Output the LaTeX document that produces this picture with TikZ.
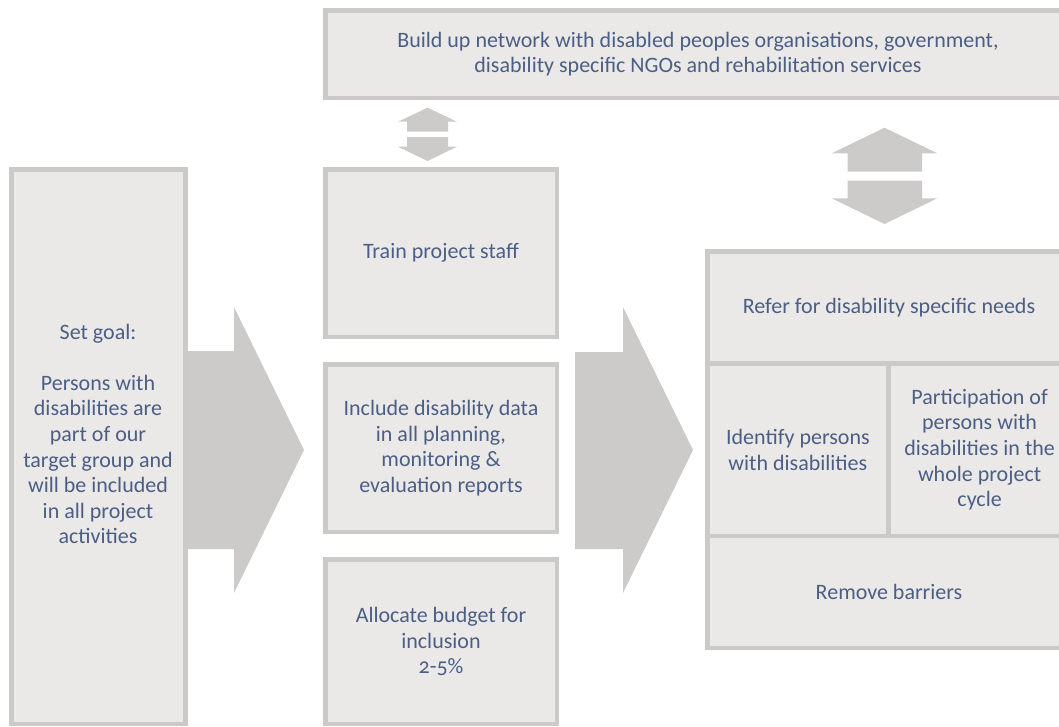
\documentclass[tikz,border=0pt]{standalone}
\usepackage{fontspec}
\setmainfont[Numbers=OldStyle]{Carlito}
\definecolor{boxfill}{RGB}{235,233,231}
\definecolor{boxline}{RGB}{203,202,200}
\definecolor{arrowgray}{RGB}{204,203,201}
\definecolor{textblue}{RGB}{75,94,133}
\tikzset{
  panel/.style={draw=boxline, fill=boxfill, line width=4.5pt, rectangle, inner sep=0pt,
    text=textblue, align=center, font=\fontsize{22}{25.6}\selectfont},
  blockarrow/.style={fill=arrowgray, draw=none},
}
\begin{document}
\begin{tikzpicture}[x=1pt,y=-1pt]
\useasboundingbox (0,0) rectangle (1059,726);
% big block arrows
\fill[blockarrow] (185,351) -- (234,351) -- (234,307) -- (304,450) -- (234,593) -- (234,549) -- (185,549) -- cycle;
\fill[blockarrow] (575,352) -- (623,352) -- (623,307) -- (693,450) -- (623,593) -- (623,549) -- (575,549) -- cycle;
% small double arrow
\fill[blockarrow] (427.5,107.7) -- (457,121.7) -- (448,121.7) -- (448,131.7) -- (407,131.7) -- (407,121.7) -- (398,121.7) -- cycle;
\fill[blockarrow] (427.5,161) -- (457,146.7) -- (448,146.7) -- (448,137) -- (407,137) -- (407,146.7) -- (398,146.7) -- cycle;
% big double arrow
\fill[blockarrow] (884.5,127.7) -- (937.3,153.3) -- (922,153.3) -- (922,171.7) -- (847.7,171.7) -- (847.7,153.3) -- (831.7,153.3) -- cycle;
\fill[blockarrow] (884.5,224) -- (937.3,198.3) -- (922,198.3) -- (922,180.7) -- (847.7,180.7) -- (847.7,198.3) -- (831.7,198.3) -- cycle;
% boxes
\node[panel, minimum width=745.5pt, minimum height=87.5pt] (network) at (698,54)
  {Build up network with disabled peoples organisations, government,\\disability specific NGOs and rehabilitation services};
\node[panel, minimum width=174.25pt, minimum height=554.5pt] (goal) at (98.6,446.5) {};
\node[text=textblue, align=center, font=\fontsize{22}{25.6}\selectfont] (goaltext) at (98,434)
  {Set goal:\\[25.6pt]Persons with\\disabilities are\\part of our\\target group and\\will be included\\in all project\\activities};
\node[panel, minimum width=231.5pt, minimum height=167.5pt] (train) at (441,253) {Train project staff};
\node[panel, minimum width=231.5pt, minimum height=167.5pt] (data) at (441,448)
  {Include disability data\\in all planning,\\monitoring \&\\evaluation reports};
\node[panel, minimum width=231.5pt, minimum height=164.5pt] (budget) at (441,641.5)
  {Allocate budget for\\inclusion\\2-5\%};
\node[panel, minimum width=363.5pt, minimum height=112.25pt] (refer) at (889,307.4) {Refer for disability specific needs};
\node[panel, minimum width=181.25pt, minimum height=172.5pt] (identify) at (797.9,449.75) {Identify persons\\with disabilities};
\node[panel, minimum width=182.25pt, minimum height=172.5pt] (particip) at (979.6,449.75)
  {Participation of\\persons with\\disabilities in the\\whole project\\cycle};
\node[panel, minimum width=363.5pt, minimum height=111.75pt] (barriers) at (889,591.9) {Remove barriers};
\end{tikzpicture}
\end{document}
